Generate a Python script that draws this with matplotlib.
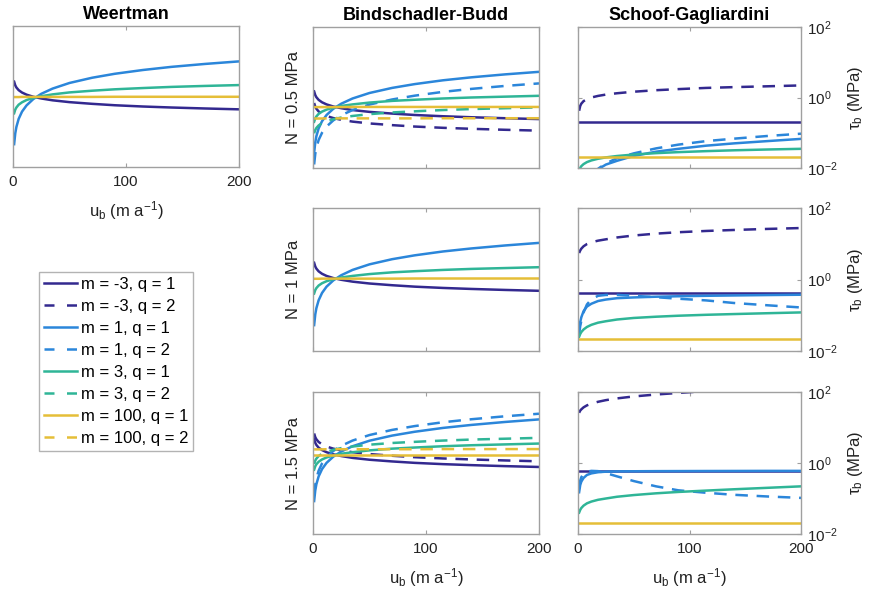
import numpy as np
import matplotlib
matplotlib.use('Agg')
import matplotlib.pyplot as plt
from matplotlib.lines import Line2D

plt.rcParams['font.family'] = ['Liberation Sans', 'DejaVu Sans']
plt.rcParams['mathtext.fontset'] = 'custom'
plt.rcParams['mathtext.rm'] = 'Liberation Sans'
plt.rcParams['mathtext.it'] = 'Liberation Sans:italic'

# sliding velocity samples (m/a)
ub = np.array([1, 2, 3, 5, 8, 12, 18, 25, 35, 50, 70, 90, 115, 140, 170, 200])

# Weertman (relative log-stress, no scale on axis)
w_m3n = [0.605, 0.579, 0.564, 0.545, 0.528, 0.513, 0.498, 0.486, 0.473, 0.460, 0.448, 0.438, 0.429, 0.422, 0.415, 0.409]
w_m1 = [0.162, 0.239, 0.284, 0.341, 0.393, 0.437, 0.482, 0.519, 0.556, 0.596, 0.633, 0.661, 0.688, 0.710, 0.731, 0.749]
w_m3 = [0.381, 0.407, 0.422, 0.442, 0.459, 0.475, 0.490, 0.502, 0.515, 0.529, 0.541, 0.551, 0.560, 0.568, 0.575, 0.581]
w_m100 = [0.496, 0.496, 0.496, 0.496, 0.497, 0.497, 0.497, 0.497, 0.497, 0.497, 0.497, 0.498, 0.498, 0.498, 0.498, 0.498]

# Bindschadler-Budd, N = 0.5 MPa
b1_m3n_q1 = [0.543, 0.517, 0.502, 0.483, 0.466, 0.451, 0.436, 0.424, 0.411, 0.398, 0.386, 0.376, 0.367, 0.360, 0.353, 0.347]
b1_m3n_q2 = [0.461, 0.435, 0.420, 0.401, 0.384, 0.369, 0.354, 0.342, 0.329, 0.316, 0.304, 0.294, 0.285, 0.278, 0.271, 0.265]
b1_m1_q1 = [0.107, 0.182, 0.226, 0.281, 0.332, 0.376, 0.420, 0.456, 0.493, 0.532, 0.568, 0.595, 0.622, 0.643, 0.664, 0.682]
b1_m1_q2 = [0.025, 0.100, 0.144, 0.199, 0.250, 0.294, 0.338, 0.374, 0.411, 0.450, 0.486, 0.513, 0.540, 0.561, 0.582, 0.600]
b1_m3_q1 = [0.328, 0.352, 0.366, 0.384, 0.400, 0.414, 0.428, 0.440, 0.451, 0.464, 0.476, 0.484, 0.493, 0.500, 0.506, 0.512]
b1_m3_q2 = [0.246, 0.270, 0.284, 0.302, 0.318, 0.332, 0.346, 0.358, 0.369, 0.382, 0.394, 0.402, 0.411, 0.418, 0.424, 0.430]
b1_m100_q1 = [0.432, 0.432, 0.432, 0.432, 0.432, 0.432, 0.432, 0.432, 0.433, 0.433, 0.433, 0.433, 0.433, 0.433, 0.433, 0.433]
b1_m100_q2 = [0.351, 0.351, 0.351, 0.351, 0.351, 0.352, 0.352, 0.352, 0.352, 0.352, 0.352, 0.352, 0.353, 0.353, 0.353, 0.353]

# Bindschadler-Budd, N = 1 MPa (q = 2 coincides with q = 1)
b2_m3n = [0.617, 0.591, 0.576, 0.557, 0.540, 0.525, 0.510, 0.498, 0.485, 0.472, 0.460, 0.450, 0.441, 0.434, 0.427, 0.421]
b2_m1 = [0.181, 0.256, 0.300, 0.355, 0.406, 0.450, 0.494, 0.530, 0.567, 0.606, 0.642, 0.669, 0.696, 0.717, 0.738, 0.756]
b2_m3 = [0.402, 0.426, 0.440, 0.458, 0.474, 0.488, 0.502, 0.514, 0.525, 0.538, 0.550, 0.558, 0.567, 0.574, 0.580, 0.586]
b2_m100 = [0.505, 0.505, 0.505, 0.505, 0.506, 0.506, 0.506, 0.506, 0.506, 0.506, 0.506, 0.507, 0.507, 0.507, 0.507, 0.507]

# Bindschadler-Budd, N = 1.5 MPa
b3_m3n_q1 = [0.668, 0.642, 0.627, 0.608, 0.591, 0.576, 0.561, 0.549, 0.536, 0.523, 0.511, 0.501, 0.492, 0.485, 0.478, 0.472]
b3_m3n_q2 = [0.708, 0.682, 0.667, 0.648, 0.631, 0.616, 0.601, 0.589, 0.576, 0.563, 0.551, 0.541, 0.532, 0.525, 0.518, 0.512]
b3_m1_q1 = [0.232, 0.307, 0.351, 0.406, 0.457, 0.501, 0.545, 0.581, 0.618, 0.657, 0.693, 0.720, 0.747, 0.768, 0.789, 0.807]
b3_m1_q2 = [0.272, 0.347, 0.391, 0.446, 0.497, 0.541, 0.585, 0.621, 0.658, 0.697, 0.733, 0.760, 0.787, 0.808, 0.829, 0.847]
b3_m3_q1 = [0.453, 0.477, 0.491, 0.509, 0.525, 0.539, 0.553, 0.565, 0.576, 0.589, 0.601, 0.609, 0.618, 0.625, 0.631, 0.637]
b3_m3_q2 = [0.493, 0.517, 0.531, 0.549, 0.565, 0.579, 0.593, 0.605, 0.616, 0.629, 0.641, 0.649, 0.658, 0.665, 0.671, 0.677]
b3_m100_q1 = [0.553, 0.553, 0.553, 0.553, 0.553, 0.553, 0.553, 0.553, 0.553, 0.553, 0.553, 0.553, 0.553, 0.553, 0.553, 0.553]
b3_m100_q2 = [0.596, 0.596, 0.596, 0.596, 0.596, 0.597, 0.597, 0.597, 0.597, 0.597, 0.597, 0.597, 0.598, 0.598, 0.598, 0.598]

# Schoof-Gagliardini, tau_b in MPa
s1_m3n_q1 = [0.2, 0.2, 0.2, 0.2, 0.2, 0.2, 0.2, 0.2, 0.2, 0.2, 0.2, 0.2, 0.2, 0.2, 0.2, 0.2]
s1_m3n_q2 = [0.42, 0.58, 0.67, 0.79, 0.9, 1.0, 1.11, 1.21, 1.32, 1.46, 1.61, 1.73, 1.87, 1.97, 2.08, 2.2]
s1_m1_q1 = [0.0005, 0.001, 0.0015, 0.0025, 0.004, 0.006, 0.0092, 0.0125, 0.016, 0.022, 0.029, 0.035, 0.043, 0.050, 0.058, 0.067]
s1_m1_q2 = [0.0005, 0.001, 0.0015, 0.0025, 0.004, 0.006, 0.0095, 0.0135, 0.019, 0.026, 0.036, 0.046, 0.058, 0.068, 0.081, 0.094]
s1_m3_q1 = [0.0084, 0.0101, 0.0113, 0.0129, 0.0147, 0.0164, 0.0183, 0.0200, 0.0219, 0.0241, 0.0264, 0.0282, 0.0301, 0.0318, 0.0335, 0.035]
s1_m100_q1 = [0.02, 0.02, 0.02, 0.02, 0.02, 0.02, 0.02, 0.02, 0.02, 0.02, 0.02, 0.02, 0.02, 0.02, 0.02, 0.02]

s2_m3n_q1 = [0.41, 0.41, 0.41, 0.41, 0.41, 0.41, 0.41, 0.41, 0.41, 0.41, 0.41, 0.41, 0.41, 0.41, 0.41, 0.41]
s2_m3n_q2 = [5.5, 6.5, 7.3, 8.5, 9.8, 11.0, 12.2, 13.3, 15.0, 17.0, 19.2, 21.0, 22.8, 24.3, 26.0, 27.5]
s2_m1_q1 = [0.04, 0.065, 0.088, 0.13, 0.175, 0.21, 0.25, 0.275, 0.30, 0.315, 0.33, 0.34, 0.35, 0.358, 0.367, 0.375]
s2_m1_q2 = [0.03, 0.05, 0.07, 0.12, 0.2, 0.28, 0.35, 0.37, 0.37, 0.35, 0.32, 0.29, 0.26, 0.22, 0.19, 0.165]
s2_m3_q1 = [0.025, 0.03, 0.034, 0.04, 0.047, 0.054, 0.062, 0.068, 0.076, 0.084, 0.091, 0.097, 0.103, 0.108, 0.114, 0.12]
s2_m100_q1 = [0.021, 0.021, 0.021, 0.021, 0.021, 0.021, 0.021, 0.021, 0.021, 0.021, 0.021, 0.021, 0.021, 0.021, 0.021, 0.021]

s3_m3n_q1 = [0.61, 0.61, 0.61, 0.61, 0.61, 0.61, 0.61, 0.61, 0.61, 0.61, 0.61, 0.61, 0.61, 0.61, 0.61, 0.61]
s3_m3n_q2 = [26, 30, 32.5, 37, 42, 47, 53, 59, 66, 75, 85, 94, 106, 115, 125, 135]
s3_m1_q1 = [0.15, 0.24, 0.3, 0.38, 0.46, 0.51, 0.55, 0.57, 0.58, 0.585, 0.59, 0.592, 0.595, 0.597, 0.6, 0.6]
s3_m1_q2 = [0.2, 0.32, 0.4, 0.5, 0.57, 0.6, 0.59, 0.52, 0.42, 0.31, 0.22, 0.17, 0.145, 0.127, 0.114, 0.104]
s3_m3_q1 = [0.04, 0.048, 0.054, 0.063, 0.073, 0.082, 0.092, 0.1, 0.112, 0.125, 0.14, 0.153, 0.167, 0.182, 0.2, 0.22]
s3_m100_q1 = [0.021, 0.021, 0.021, 0.021, 0.021, 0.021, 0.021, 0.021, 0.021, 0.021, 0.021, 0.021, 0.021, 0.021, 0.021, 0.021]

row_labels = ['N = 0.5 MPa', 'N = 1 MPa', 'N = 1.5 MPa']
legend_labels = ['m = -3, q = 1', 'm = -3, q = 2', 'm = 1, q = 1', 'm = 1, q = 2',
                 'm = 3, q = 1', 'm = 3, q = 2', 'm = 100, q = 1', 'm = 100, q = 2']

c_dark = '#33298f'
c_blue = '#2b86da'
c_teal = '#2fb597'
c_yel = '#e5be38'
grey = '#a0a0a0'
dash = (0, (5, 3.5))
lw = 1.8

W, H = 874, 599
fig = plt.figure(figsize=(W / 100, H / 100), dpi=100)


def box(l, t, r, b):
    return [l / W, 1 - b / H, (r - l) / W, (b - t) / H]


def style(ax, xlabels=False):
    ax.set_xlim(0, 200)
    ax.set_xticks([0, 100, 200])
    for s in ax.spines.values():
        s.set_color(grey)
        s.set_linewidth(1.0)
    ax.tick_params(direction='in', length=3, color=grey, top=True, right=True,
                   labelsize=11, labelcolor='#222222', pad=6)
    if xlabels:
        ax.set_xlabel('u$_\\mathrm{b}$ (m a$^{-1}$)', fontsize=12, color='#222222', labelpad=7)
    else:
        ax.tick_params(labelbottom=False)


def draw(ax, curves):
    for y, c, ls in curves:
        ax.plot(ub, y, color=c, ls=ls, lw=lw)


# Weertman
ax = fig.add_axes(box(13, 26, 239, 167))
draw(ax, [(w_m3n, c_dark, '-'), (w_m1, c_blue, '-'), (w_m3, c_teal, '-'), (w_m100, c_yel, '-')])
ax.set_ylim(0, 1)
ax.set_yticks([])
style(ax, xlabels=True)
ax.set_title('Weertman', fontweight='bold', fontsize=13, pad=5)

# Bindschadler-Budd
rows = [(27, 168), (208, 351), (392, 534)]
bb = [
    [(b1_m3n_q1, c_dark, '-'), (b1_m3n_q2, c_dark, dash), (b1_m1_q1, c_blue, '-'), (b1_m1_q2, c_blue, dash),
     (b1_m3_q1, c_teal, '-'), (b1_m3_q2, c_teal, dash), (b1_m100_q1, c_yel, '-'), (b1_m100_q2, c_yel, dash)],
    [(b2_m3n, c_dark, '-'), (b2_m1, c_blue, '-'), (b2_m3, c_teal, '-'), (b2_m100, c_yel, '-')],
    [(b3_m3n_q1, c_dark, '-'), (b3_m3n_q2, c_dark, dash), (b3_m1_q1, c_blue, '-'), (b3_m1_q2, c_blue, dash),
     (b3_m3_q1, c_teal, '-'), (b3_m3_q2, c_teal, dash), (b3_m100_q1, c_yel, '-'), (b3_m100_q2, c_yel, dash)],
]
for i, (t, b) in enumerate(rows):
    ax = fig.add_axes(box(313, t, 539, b))
    draw(ax, bb[i])
    ax.set_ylim(0, 1)
    ax.set_yticks([])
    style(ax, xlabels=(i == 2))
    ax.set_ylabel(row_labels[i], fontsize=12, labelpad=9, color='#222222')
    if i == 0:
        ax.set_title('Bindschadler-Budd', fontweight='bold', fontsize=13, pad=5)

# Schoof-Gagliardini
sg = [
    [(s1_m3n_q1, c_dark, '-'), (s1_m3n_q2, c_dark, dash), (s1_m1_q1, c_blue, '-'), (s1_m1_q2, c_blue, dash),
     (s1_m3_q1, c_teal, '-'), (s1_m100_q1, c_yel, '-')],
    [(s2_m3n_q1, c_dark, '-'), (s2_m3n_q2, c_dark, dash), (s2_m1_q1, c_blue, '-'), (s2_m1_q2, c_blue, dash),
     (s2_m3_q1, c_teal, '-'), (s2_m100_q1, c_yel, '-')],
    [(s3_m3n_q1, c_dark, '-'), (s3_m3n_q2, c_dark, dash), (s3_m1_q1, c_blue, '-'), (s3_m1_q2, c_blue, dash),
     (s3_m3_q1, c_teal, '-'), (s3_m100_q1, c_yel, '-')],
]
for i, (t, b) in enumerate(rows):
    ax = fig.add_axes(box(578, t, 801, b))
    draw(ax, sg[i])
    ax.set_yscale('log')
    ax.set_ylim(1e-2, 1e2)
    ax.set_yticks([1e-2, 1, 1e2])
    ax.yaxis.set_minor_locator(matplotlib.ticker.NullLocator())
    style(ax, xlabels=(i == 2))
    ax.tick_params(axis='y', labelleft=False, labelright=True, pad=4)
    ax.yaxis.set_label_position('right')
    ax.set_ylabel('τ$_\\mathrm{b}$ (MPa)', fontsize=12, labelpad=6, color='#222222')
    if i == 0:
        ax.set_title('Schoof-Gagliardini', fontweight='bold', fontsize=13, pad=5)

# legend
handles = []
for c in [c_dark, c_blue, c_teal, c_yel]:
    handles.append(Line2D([], [], color=c, lw=lw, ls='-'))
    handles.append(Line2D([], [], color=c, lw=lw, ls=(0, (4, 5))))
leg = fig.legend(handles, legend_labels, loc='upper left', bbox_to_anchor=(39 / W, 1 - 272 / H),
                 fontsize=12, frameon=True, fancybox=False, handlelength=2.0, handletextpad=0.2,
                 labelspacing=0.42, borderpad=0.3, borderaxespad=0)
leg.get_frame().set_edgecolor(grey)
leg.get_frame().set_linewidth(1.0)

fig.savefig('out.png', dpi=100)
